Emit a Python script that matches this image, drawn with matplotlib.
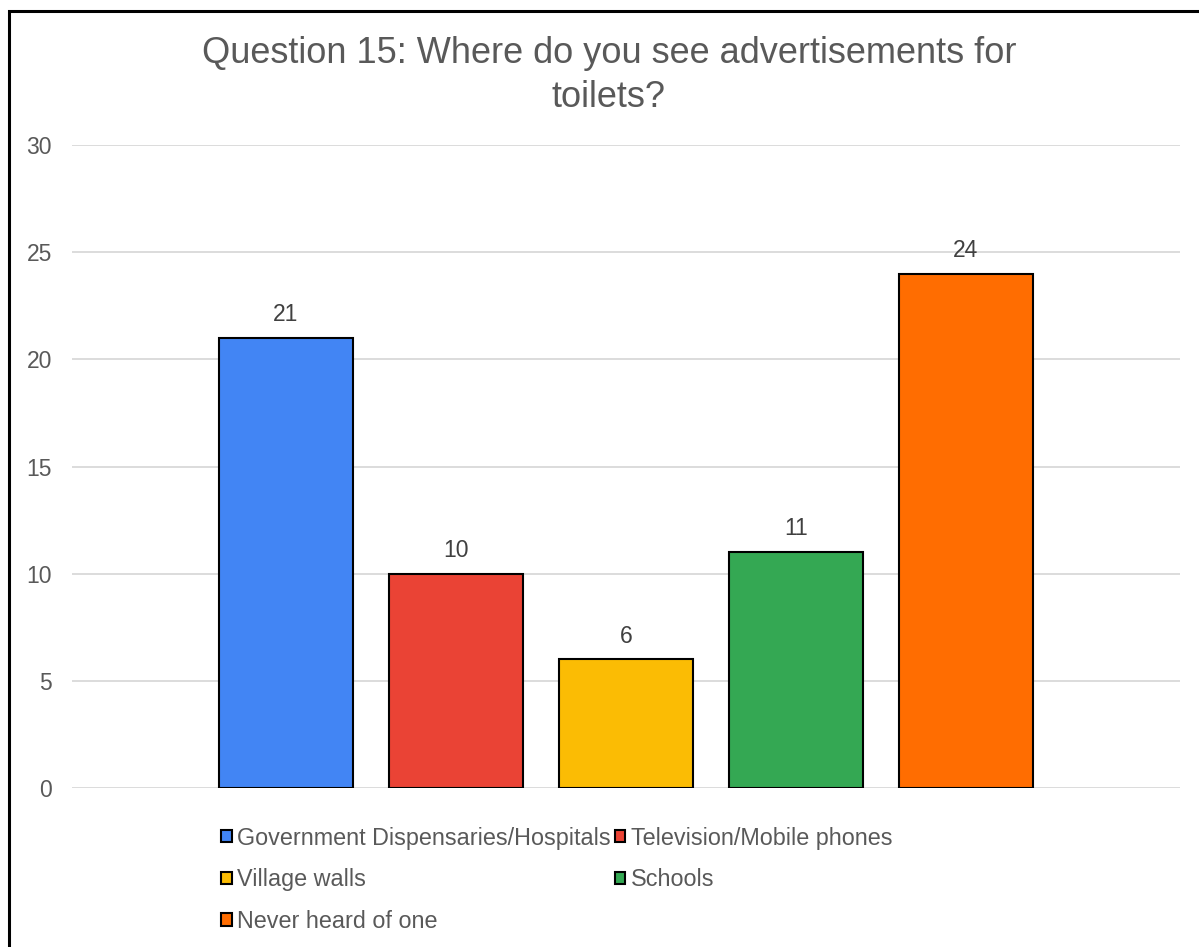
import matplotlib
matplotlib.use("Agg")
import matplotlib.pyplot as plt
from matplotlib.patches import Rectangle, Patch

plt.rcParams['font.family'] = ['Liberation Sans', 'DejaVu Sans']

title = "Question 15: Where do you see advertisements for\ntoilets?"
categories = ["Government Dispensaries/Hospitals", "Television/Mobile phones",
              "Village walls", "Schools", "Never heard of one"]
values = [21, 10, 6, 11, 24]
colors = ["#4285F4", "#EA4335", "#FBBC04", "#34A853", "#FF6D01"]
yticks = [0, 5, 10, 15, 20, 25, 30]

W, H = 1199, 947
fig = plt.figure(figsize=(W / 100, H / 100), dpi=100)
ax = fig.add_axes([72 / W, 1 - 788 / H, (1180 - 72) / W, (788 - 145) / H])

text_color = "#595959"
xs = list(range(len(values)))
bars = ax.bar(xs, values, width=0.79, color=colors, edgecolor="black", linewidth=1.5, zorder=3)
for x, v in zip(xs, values):
    ax.annotate(str(v), (x, v), xytext=(0, 8.5), textcoords="offset points",
                ha="center", va="bottom", fontsize=16.5, color="#404040")

ax.set_xlim(2 - 3.259, 2 + 3.259)
ax.set_ylim(0, 30)
ax.set_yticks(yticks)
ax.set_xticks([])
ax.yaxis.grid(True, color="#D9D9D9", linewidth=1.3, zorder=0)
ax.set_axisbelow(True)
for s in ax.spines.values():
    s.set_visible(False)
ax.tick_params(axis="y", length=0, pad=14.5, labelsize=16.5, labelcolor=text_color)

fig.text(609 / W, 1 - 75.5 / H, title, ha="center", va="center", fontsize=26,
         color=text_color, linespacing=1.35)

# legend: row-wise order -> supply column-major
order = [0, 2, 4, 1, 3]
handles = [Patch(facecolor=colors[i], edgecolor="black", linewidth=1.5) for i in order]
labels = [categories[i] for i in order]
fig.legend(handles, labels, ncol=2, loc="upper left",
           bbox_to_anchor=(221 / W, 1 - 826.5 / H), frameon=False,
           fontsize=16.8, labelcolor=text_color, handlelength=0.45, handleheight=0.45,
           handletextpad=0.22, columnspacing=0.2, labelspacing=0.8, borderpad=0,
           borderaxespad=0)

# outer border (only left and top visible in the reference)
fig.patches.append(Rectangle((8.5 / W, -0.1), 1.2, 1 - 10.7 / H + 0.1,
                             transform=fig.transFigure, fill=False,
                             edgecolor="black", linewidth=2.2))

fig.savefig("out.png", dpi=100)
